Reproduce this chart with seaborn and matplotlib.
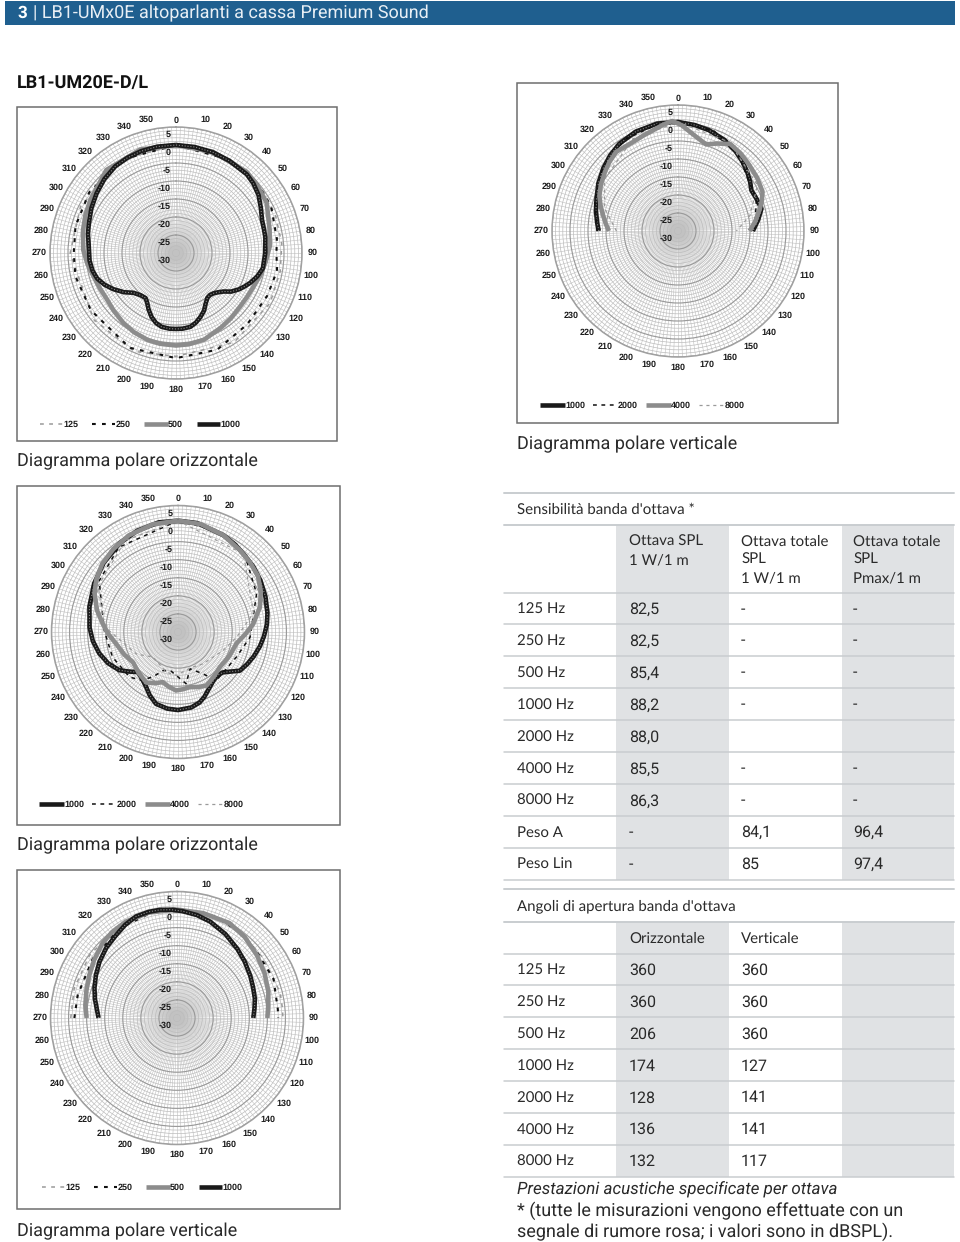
import numpy as np
import matplotlib
matplotlib.use("Agg")
import matplotlib.pyplot as plt
from matplotlib.patches import Rectangle
import seaborn as sns
import pandas as pd

# ---------- data (angle in degrees, level in dB) ----------
A_1000_ang = [0,10,20,30,42,48,55,62,69,75,80,90,100,106,112,116,120,125,129,133,137,141,145,150,154,159,164,169,175,180,185,191,196,201,206,210,214,220,227,233,240,246,252,258,265,276,282,289,298,307,316,325,333,341,350,360]
A_1000_db = [0,-0.1,-0.2,-0.4,-0.6,-1.1,-2,-3.3,-4.4,-4.7,-4.8,-5.2,-5.5,-6.5,-7.8,-8.8,-9.8,-11.3,-13,-14,-14.7,-15,-14.8,-13.6,-12.2,-11,-9.9,-9.1,-8.9,-8.9,-8.9,-9.1,-9.8,-11,-12.6,-14,-14.9,-14.7,-13.8,-11.9,-9.9,-8.3,-7,-6.3,-5.9,-5.6,-5,-4.4,-3.4,-2.4,-1.4,-0.6,-0.3,-0.1,0,0]
A_500_ang = [0,20,41,50,61,76,86,96,105,113,122,130,140,149,162,172,180,190,198,208,217,227,236,245,254,263,272,284,293,302,320,341,360]
A_500_db = [0,-0.1,-0.1,-0.6,-1.2,-3.2,-3.9,-5,-5.8,-6.5,-6.8,-6.8,-6.3,-5.8,-4.7,-4.4,-4.3,-4.4,-4.6,-5.1,-5.7,-6.4,-6.9,-6.7,-6.2,-5.2,-4.2,-3.4,-2.7,-2,0.1,0.4,0]
A_250_ang = [0,30,50,64,82,90,100,115,135,157,180,206,236,257,270,285,305,330,360]
A_250_db = [0,-0.1,-0.3,-0.6,-1.7,-2.1,-1.5,-2,-2,-0.8,-0.8,-0.7,-1.5,-1.3,-1.6,-1.1,-0.6,0,0]
A_125_ang = [0,30,55,70,85,100,118,147,180,203,231,270,296,330,360]
A_125_db = [0,-0.1,-0.3,-0.5,-0.5,-0.6,-0.4,-0.4,-1.3,-0.3,-0.6,-0.6,-0.5,0,0]

B_1000_ang = [270,276,284,292,301,310,318,326,337,349,360,9,17,27,36,43,50,56,61,68,75,82,90]
B_1000_db = [-8,-7.4,-6.5,-5.6,-4.2,-2.9,-1.8,-0.8,0,0.4,0.3,-0.2,-0.7,-1.6,-2.7,-3.7,-4.8,-5.8,-6.7,-6.4,-6,-7.5,-9.2]
B_2000_ang = [270,290,310,330,350,360,20,36,53,68,90]
B_2000_db = [-7.5,-5.4,-2.7,-0.6,0.3,0.3,-0.5,-2.3,-5.7,-6.5,-8.7]
B_4000_ang = [270,276,282,288,294,301,309,315,322,333,340,346,352,357,2,7,12,18,24,31,39,47,56,65,70,75,83,90]
B_4000_db = [-10.8,-9.8,-8.7,-7.4,-6.1,-5,-3.9,-3,-2.1,-2.3,-1.8,-1.2,-0.2,0.6,-0.6,-2.3,-3.6,-4.7,-3.4,-1.8,-2.3,-3,-3.5,-4.1,-5.2,-6.5,-8.4,-10.1]
B_8000_ang = [270,287,305,334,360,30,60,78,90]
B_8000_db = [-12.9,-8.7,-5,-1.5,0.3,-1.5,-4.5,-9.6,-13.8]

C_1000_ang = [0,10,25,33,40,49,58,68,78,85,93,100,108,115,122,127,132,138,145,153,158,163,170,180,188,197,204,210,217,225,231,237,246,255,264,273,286,300,313,327,338,350,360]
C_1000_db = [0.8,0.6,-0.4,-1.1,-1.8,-2.4,-3.1,-3.9,-4.7,-5.3,-6.2,-7,-8,-8.9,-9.8,-11.8,-13.3,-13.8,-13.2,-11.8,-10.6,-9.6,-8.8,-8.4,-8.6,-9.2,-10.8,-12.4,-13.6,-14.3,-12.6,-10.6,-8.8,-7.4,-6.3,-5.5,-4.5,-3.2,-1.9,-0.6,0.2,0.8,0.8]
C_2000_ang = [0,20,41,64,94,113,142,149,162,171,190,201,208,216,227,249,271,303,325,360]
C_2000_db = [0.8,0,-1.8,-5.8,-10,-12.4,-12.9,-16.5,-19.3,-15.5,-19,-18.6,-16.3,-13.4,-11.7,-10.6,-9.6,-4,-1.4,0.8]
C_4000_ang = [0,12,25,37,46,55,64,73,84,92,101,115,130,141,152,160,168,175,182,190,197,204,212,224,236,247,259,268,276,285,295,303,312,322,333,347,360]
C_4000_db = [0.8,0.5,-0.4,-1.6,-2.3,-3,-4.5,-6.3,-9.1,-11.4,-13.5,-14.3,-14.9,-14.2,-13.2,-13.8,-14.4,-14.1,-13.8,-14.7,-15.5,-14.5,-13.5,-14.3,-15,-13.9,-12.6,-10.8,-9.1,-6.8,-4.5,-3.1,-1.8,-0.9,0,0.6,0.8]
C_8000_ang = [0,40,76,95,112,142,160,182,196,225,242,271,281,300,330,360]
C_8000_db = [0.8,-1.8,-8.5,-13.7,-16.5,-18.8,-19.5,-18,-18.4,-20.2,-17,-11,-8.8,-4.5,-0.8,0.8]

D_1000_ang = [270,277,283,290,298,306,315,324,331,338,345,351,357,3,11,19,30,41,50,60,68,76,83,90]
D_1000_db = [-8.3,-7.6,-6.7,-5.7,-4.6,-3.5,-2.4,-1.5,-0.5,0.3,0.4,0.3,0,-0.4,-1,-1.8,-3.2,-4.6,-5.6,-6.6,-7.3,-7.8,-8.4,-8.9]
D_500_ang = [270,278,287,296,305,315,323,332,345,360,14,29,40,52,63,74,82,90]
D_500_db = [-5,-4.4,-3.8,-3,-2,-0.8,-0.2,0.2,0.2,0,-0.1,0,-0.8,-1.9,-2.8,-3.7,-4.5,-5]
D_250_ang = [270,283,305,327,350,360,20,36,50,68,85,90]
D_250_db = [-1.6,-1.8,-1.5,-0.5,0.5,0.3,0,-0.5,-1.3,-1.2,-2,-2]
D_125_ang = [270,286,306,328,350,20,39,55,76,85,90]
D_125_db = [-0.6,-0.4,-0.2,0,0.3,0,-0.6,-1,-0.6,-0.7,-0.7]

RING_DB = [5,0,-5,-10,-15,-20,-25,-30]
ANGLE_LABELS = list(range(0,360,10))

T1_TITLE = "Sensibilità banda d'ottava *"
T1_HEAD = [["Ottava SPL","1 W/1 m"],["Ottava totale","SPL","1 W/1 m"],["Ottava totale","SPL","Pmax/1 m"]]
T1_ROWS = ["125 Hz","250 Hz","500 Hz","1000 Hz","2000 Hz","4000 Hz","8000 Hz","Peso A","Peso Lin"]
T1_C1 = ["82,5","82,5","85,4","88,2","88,0","85,5","86,3","-","-"]
T1_C2 = ["-","-","-","-","","-","-","84,1","85"]
T1_C3 = ["-","-","-","-","","-","-","96,4","97,4"]
T2_TITLE = "Angoli di apertura banda d'ottava"
T2_HEAD = [["Orizzontale"],["Verticale"],[""]]
T2_ROWS = ["125 Hz","250 Hz","500 Hz","1000 Hz","2000 Hz","4000 Hz","8000 Hz"]
T2_C1 = ["360","360","206","174","128","136","132"]
T2_C2 = ["360","360","360","127","141","141","117"]

# ---------- style ----------
W, H = 960, 1242
BODY = "Roboto"
NARROW = "Lato"
LBL = "Liberation Sans"
LINE = "#c9cdd0"
SHADE = "#e0e2e4"
TXT = "#2a2a2a"
STYLES = {
    "125":  dict(color="#9a9a9a", lw=1.1, ls=(0,(2.5,3.5)), tex=False),
    "250":  dict(color="#111111", lw=1.5, ls=(0,(1.8,3)), tex=False),
    "500":  dict(color="#8c8c8c", lw=3.3, ls="-", tex=False),
    "1000": dict(color="#1a1a1a", lw=3.3, ls="-", tex=True),
    "2000": dict(color="#111111", lw=1.1, ls=(0,(2.5,3)), tex=False),
    "4000": dict(color="#8c8c8c", lw=3.3, ls="-", tex=False),
    "8000": dict(color="#9a9a9a", lw=0.9, ls=(0,(2.5,3)), tex=False),
}

sns.set_theme(style="white", rc={"font.family": BODY, "axes.edgecolor": "#999999",
                                 "text.hinting": "no_hinting", "text.hinting_factor": 1})
fig = plt.figure(figsize=(W/100, H/100), dpi=100, facecolor="white")

page = fig.add_axes([0,0,1,1], zorder=0)
page.set_xlim(0, W); page.set_ylim(H, 0); page.axis("off")


def polar_chart(cx, cy, R, box, series, order, leg_x, leg_y, hlen, colsp):
    page.add_patch(Rectangle((box[0], box[1]), box[2]-box[0], box[3]-box[1],
                             fc="white", ec="#6e6e6e", lw=1.1, zorder=1))
    ax = fig.add_axes([(cx-R)/W, 1-(cy+R)/H, 2*R/W, 2*R/H], projection="polar", zorder=2)
    ax.patch.set_alpha(0)
    ax.set_theta_zero_location("N")
    ax.set_theta_direction(-1)
    ax.set_ylim(-30, 5)
    ax.set_xticks(np.deg2rad(np.arange(0, 360, 2)))
    ax.set_xticklabels([])
    ax.set_yticks(RING_DB)
    ax.set_yticks(np.arange(-30, 6), minor=True)
    ax.set_yticklabels([])
    ax.grid(True, which="major", axis="x", color="#c2c2c2", lw=0.42)
    ax.grid(True, which="minor", axis="y", color="#bcbcbc", lw=0.5)
    ax.grid(True, which="major", axis="y", color="#9a9a9a", lw=0.85)
    ax.tick_params(which="both", length=0)
    ax.spines["polar"].set_color("#a0a0a0")
    ax.spines["polar"].set_linewidth(1.1)
    ax.set_axisbelow(True)
    handles = {}
    for label, ang, db in series:
        st = STYLES[label]
        df = pd.DataFrame({"t": np.deg2rad(ang), "r": db})
        n0 = len(ax.lines)
        sns.lineplot(data=df, x="t", y="r", ax=ax, sort=False, estimator=None,
                     color=st["color"], lw=st["lw"], ls=st["ls"], legend=False)
        line = ax.lines[n0]
        line.set_solid_joinstyle("round")
        line.set_solid_capstyle("butt")
        handles[label] = line
        if st["tex"]:
            sns.lineplot(data=df, x="t", y="r", ax=ax, sort=False, estimator=None,
                         color="#8a8a8a", lw=0.8, ls=(0,(1,1.6)), legend=False)
    ax.set_xlabel(""); ax.set_ylabel("")
    for a in ANGLE_LABELS:
        nudge = 0 if a in (0, 180) else 2.4*np.cos(np.deg2rad(a))*(1 if a < 180 else -1)
        rr = 6.8 if a == 0 else 7.9
        ax.text(np.deg2rad(a+nudge), rr, str(a), ha="center", va="center", fontsize=6.7,
                fontfamily=LBL, fontweight="bold", color="#1c1c1c", clip_on=False)
    for d in RING_DB:
        ax.annotate(str(d), xy=(0, d), xytext=(-3.6, -5.8), textcoords="offset points",
                    ha="right", va="center", fontsize=6.7, fontfamily=LBL,
                    fontweight="bold", color="#1c1c1c", annotation_clip=False)
    hs = [handles[k] for k in order]
    leg = ax.legend(hs, order, ncol=4, frameon=False, loc="center left",
                    bbox_to_anchor=(leg_x/W, 1-leg_y/H), bbox_transform=fig.transFigure,
                    handlelength=hlen, handletextpad=0.05, columnspacing=colsp, borderpad=0, borderaxespad=0,
                    prop=dict(family=LBL, weight="bold", size=6.7))
    for t in leg.get_texts():
        t.set_color("#1c1c1c")
    return ax


polar_chart(176, 253, 126, (17,107,337,441),
            [("125",A_125_ang,A_125_db),("250",A_250_ang,A_250_db),("500",A_500_ang,A_500_db),("1000",A_1000_ang,A_1000_db)],
            ["125","250","500","1000"], 40, 425, 2.5, 1.45)
polar_chart(678, 231, 126, (517,83,838,423),
            [("1000",B_1000_ang,B_1000_db),("2000",B_2000_ang,B_2000_db),("8000",B_8000_ang,B_8000_db),("4000",B_4000_ang,B_4000_db)],
            ["1000","2000","4000","8000"], 540, 406, 2.65, 0.85)
polar_chart(178, 632, 126.5, (17,486,340,825),
            [("1000",C_1000_ang,C_1000_db),("2000",C_2000_ang,C_2000_db),("8000",C_8000_ang,C_8000_db),("4000",C_4000_ang,C_4000_db)],
            ["1000","2000","4000","8000"], 39, 805, 2.65, 0.85)
polar_chart(177, 1018, 126.5, (17,870,340,1209),
            [("125",D_125_ang,D_125_db),("250",D_250_ang,D_250_db),("500",D_500_ang,D_500_db),("1000",D_1000_ang,D_1000_db)],
            ["125","250","500","1000"], 42, 1188, 2.5, 1.45)

# header
page.add_patch(Rectangle((5,1), 950, 24, fc="#1f5f8f", ec="none"))
page.text(17, 13.5, "3", color="white", fontsize=12.5, fontweight="bold", family=BODY, va="center")
page.text(33, 13.5, "| LB1-UMx0E altoparlanti a cassa Premium Sound", color="#e8eff5", fontsize=12.8, family=BODY, va="center")
page.text(17, 84, "LB1-UM20E-D/L", color="#111111", fontsize=12.7, fontweight="bold", family=BODY, va="center")

# captions
for x, y, s in [(17,461.5,"Diagramma polare orizzontale"),(517,444.5,"Diagramma polare verticale"),
                (17,845.5,"Diagramma polare orizzontale"),(17,1231.5,"Diagramma polare verticale")]:
    page.text(x, y, s, fontsize=12.85, family=BODY, color=TXT, va="center")


def table(y_title_top, y_head, y_rows, n, title, head, rows, cols):
    row_h = 31.9
    y_end = y_rows + n*row_h
    page.add_patch(Rectangle((616, y_head), 113, y_end-y_head, fc=SHADE, ec="none"))
    page.add_patch(Rectangle((842, y_head), 112, y_end-y_head, fc=SHADE, ec="none"))
    page.plot([504,954],[y_title_top,y_title_top], color=LINE, lw=1.4, zorder=2)
    page.plot([504,954],[y_head,y_head], color=LINE, lw=1.4, zorder=2)
    page.text(517, (y_title_top+y_head)/2+1, title, fontsize=10.6, family=NARROW, color=TXT, va="center")
    for x, lines in zip((629,741,853), head):
        for i, s in enumerate(lines):
            page.text(x, y_head+17+i*18, s, fontsize=10.6, family=NARROW, color=TXT, va="center")
    page.plot([504,954],[y_rows,y_rows], color=LINE, lw=1.1, zorder=2)
    for i, name in enumerate(rows):
        y = y_rows + (i+0.5)*row_h + 1
        page.text(517, y, name, fontsize=10.6, family=NARROW, color=TXT, va="center")
        for x, col in zip((629,741,853), cols):
            page.text(x, y, col[i], fontsize=11.4, family=BODY, color=TXT, va="center")
        yl = y_rows + (i+1)*row_h
        page.plot([504,954],[yl,yl], color=LINE, lw=1.1, zorder=2)


table(493, 525, 592.5, 9, T1_TITLE, T1_HEAD, T1_ROWS, [T1_C1,T1_C2,T1_C3])
table(889, 922, 953.5, 7, T2_TITLE, T2_HEAD, T2_ROWS, [T2_C1,T2_C2,[""]*7])

page.text(517, 1190, "Prestazioni acustiche specificate per ottava", fontsize=12.6, family=BODY, style="italic", color=TXT, va="center")
page.text(517, 1210.5, "* (tutte le misurazioni vengono effettuate con un", fontsize=12.9, family=BODY, color=TXT, va="center")
page.text(517, 1231.5, "segnale di rumore rosa; i valori sono in dBSPL).", fontsize=12.9, family=BODY, color=TXT, va="center")
page.set_xlim(0, W); page.set_ylim(H, 0)

fig.savefig("out.png", dpi=100, facecolor="white")
